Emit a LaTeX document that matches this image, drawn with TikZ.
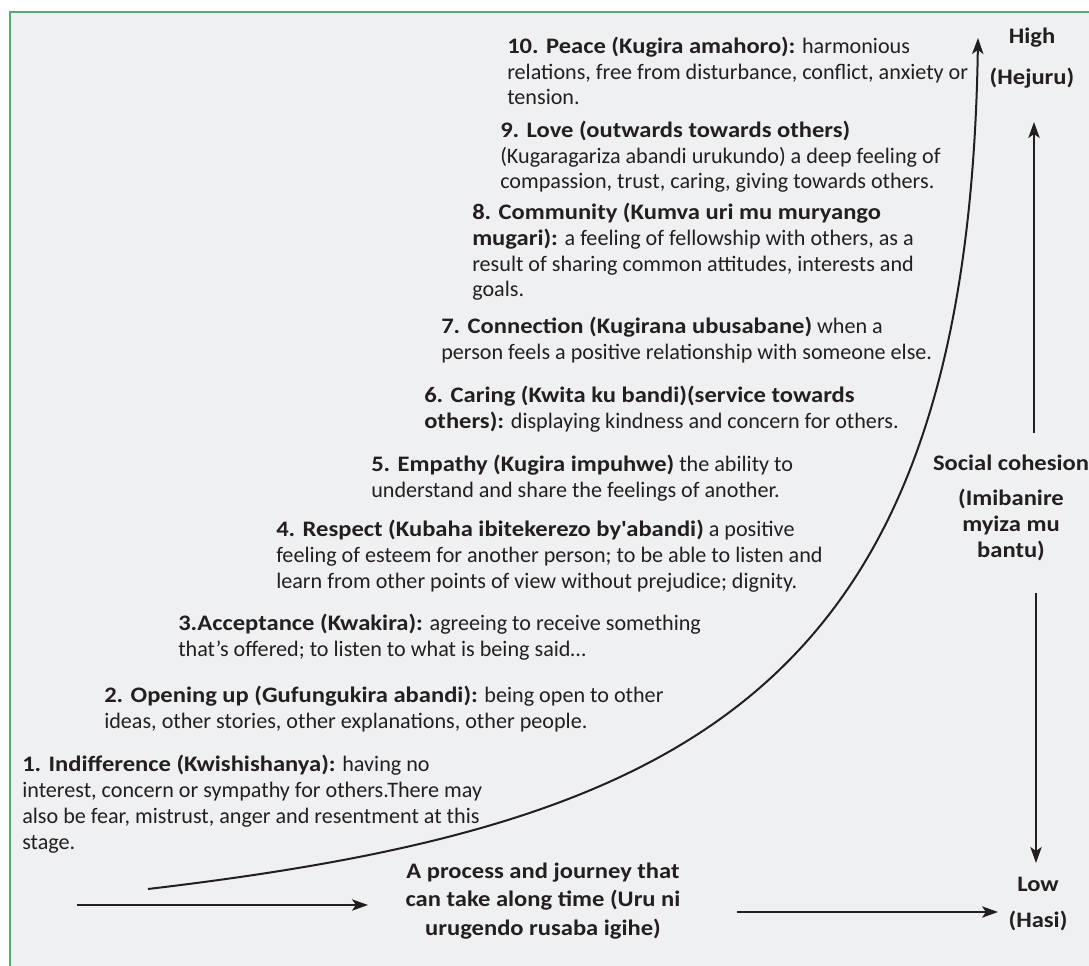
\documentclass[tikz,border=0pt]{standalone}
\usepackage{fontspec}
\setmainfont{Carlito}[BoldFeatures={FakeStretch=1.11}]
\usetikzlibrary{positioning}
\usetikzlibrary{arrows.meta}
\definecolor{panelbg}{HTML}{EFF0F2}
\definecolor{framegreen}{HTML}{5AA877}
\definecolor{ink}{HTML}{231F20}
\tikzset{
  stage/.style={anchor=base west, inner sep=0pt, align=left, text=ink,
    font=\fontsize{16.6}{19.3}\selectfont},
  axislabel/.style={anchor=base, inner sep=0pt, align=center, text=ink,
    font=\fontsize{16.6}{19.3}\selectfont\bfseries},
  flow/.style={draw=ink, line width=1.5pt, -{Stealth[length=12pt,width=8.5pt,inset=3pt]}},
}

\begin{document}
\begin{tikzpicture}[x=0.75pt,y=-0.75pt]
            \useasboundingbox (0,0) rectangle (1089,966);
            \clip (0,0) rectangle (1089,966);
            \fill[white] (0,0) rectangle (1089,966);
            \draw[framegreen, fill=panelbg, line width=1.5pt] (10,12) rectangle (1110,990);

            % stages, bottom to top (placed by the baseline of their last line)
            \node (s1)  [stage] at (22,849)  {\textbf{1. Indifference (Kwishishanya):} having no\\interest, concern or sympathy for others.There may\\also be fear, mistrust, anger and resentment at this\\stage.};
            \node (s2)  [stage] at (104,728) {\textbf{2. Opening up (Gufungukira abandi):} being open to other\\ideas, other stories, other explanations, other people.};
            \node (s3)  [stage] at (178,656) {\textbf{3.Acceptance (Kwakira):} agreeing to receive something\\that’s offered; to listen to what is being said…};
            \node (s4)  [stage] at (276,588) {\textbf{4. Respect (Kubaha ibitekerezo by\textquotesingle abandi)} a positive\\feeling of esteem for another person; to be able to listen and\\learn from other points of view without prejudice; dignity.};
            \node (s5)  [stage] at (371,497) {\textbf{5. Empathy (Kugira impuhwe)} the ability to\\understand and share the feelings of another.};
            \node (s6)  [stage] at (424,428) {\textbf{6. Caring (Kwita ku bandi)(service towards}\\\textbf{others):} displaying kindness and concern for others.};
            \node (s7)  [stage] at (441,359) {\textbf{7. Connection (Kugirana ubusabane)} when a\\person feels a positive relationship with someone else.};
            \node (s8)  [stage] at (472,297) {\textbf{8. Community (Kumva uri mu muryango}\\\textbf{mugari):} a feeling of fellowship with others, as a\\result of sharing common attitudes, interests and\\goals.};
            \node (s9)  [stage] at (500,189) {\textbf{9. Love (outwards towards others)}\\(Kugaragariza abandi urukundo) a deep feeling of\\compassion, trust, caring, giving towards others.};
            \node (s10) [stage] at (507,105) {\textbf{10. Peace (Kugira amahoro):} harmonious\\relations, free from disturbance, conflict, anxiety or\\tension.};

            % axis labels
            \node (high)     [axislabel] at (1032,85)  {High\\[12pt](Hejuru)};
            \node (cohesion) [axislabel] at (1011,557) {Social cohesion\\[7pt](Imibanire\\myiza mu\\bantu)};
            \node (low)      [axislabel] at (1038,927) {Low\\[7pt](Hasi)};
            \node (journey)  [axislabel] at (543,935)  {A process and journey that\\[2pt]can take along time (Uru ni\\[2pt]urugendo rusaba igihe)};

            \coordinate (curvestart) at (148,889);
            \coordinate (curveend)   at (978,38);
            \coordinate (upstart)    at (1034,433);
            \coordinate (upend)      at (1034,122);
            \coordinate (downstart)  at (1036,593);
            \coordinate (downend)    at (1036,863);
            \coordinate (timestart)  at (77,905);
            \coordinate (timemid)    at (368,905);
            \coordinate (timego)     at (737,912);
            \coordinate (timeend)    at (998,912);

            \draw[flow] (curvestart) .. controls (690,825) and (968,690) .. (curveend);
            \draw[flow] (upstart) -- (upend);
            \draw[flow] (downstart) -- (downend);
            \draw[flow] (timestart) -- (timemid);
            \draw[flow] (timego) -- (timeend);
        \end{tikzpicture}
\end{document}
